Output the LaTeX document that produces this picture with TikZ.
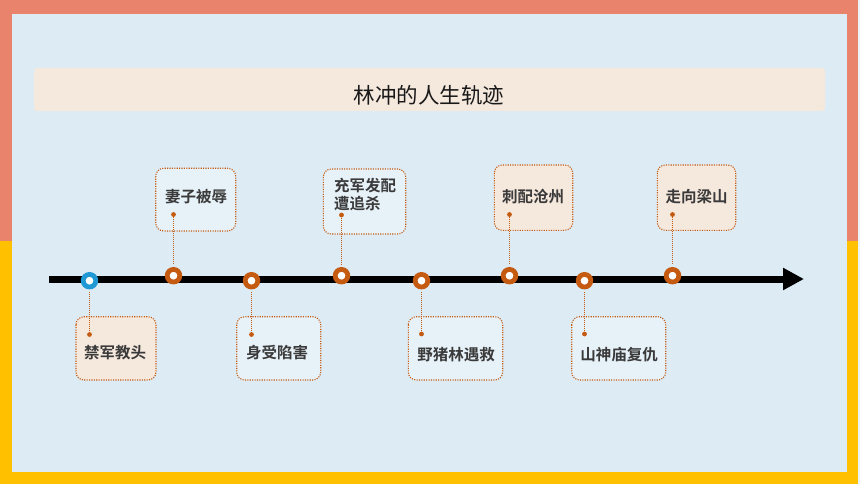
\documentclass[tikz,border=0pt]{standalone}
\usepackage{fontspec}
\newfontfamily\cjk{Noto Sans CJK SC}
\newfontfamily\cjkb{Noto Sans CJK SC Bold}
\usetikzlibrary{arrows.meta}
\definecolor{bandred}{HTML}{E9836C}
\definecolor{bandyel}{HTML}{FFC000}
\definecolor{panel}{HTML}{DCEBF4}
\definecolor{peach}{HTML}{F5E8DD}
\definecolor{lightbox}{HTML}{E6F1F8}
\definecolor{rust}{HTML}{C55A11}
\definecolor{ringblue}{HTML}{1F98D4}
\definecolor{txt}{HTML}{3A3A3A}
\tikzset{
  evbox/.style={draw=rust, dash pattern=on 1.1pt off 1.3pt, line width=1.1pt, rounded corners=8pt},
  peachbox/.style={evbox, fill=peach},
  bluebox/.style={evbox, fill=lightbox},
  ring/.style={circle, draw=rust, line width=4.8pt, fill=white, inner sep=0pt, minimum size=12.6pt},
  bluering/.style={ring, draw=ringblue},
  evdot/.style={circle, fill=rust, inner sep=0pt, minimum size=4.8pt},
  evtext/.style={text=txt, font=\cjkb\fontsize{15.5}{18.5}\selectfont, inner sep=0pt},
  stem/.style={draw=rust, dash pattern=on 1pt off 1pt, line width=1.2pt},
}
\begin{document}
\begin{tikzpicture}[x=1pt,y=-1pt]
\useasboundingbox (0,0) rectangle (860,484);
% background bands
\fill[bandred] (0,0) rectangle (860,241);
\fill[bandyel] (0,241) rectangle (860,484);
\fill[panel!60!white] (858,0) rectangle (860,484);
\fill[panel] (12,14) rectangle (846.5,472);
% title
\fill[peach, rounded corners=3pt] (34,68) rectangle (825,111);
\node[text=black!90, font=\cjk\fontsize{21.5}{24}\selectfont, inner sep=0pt] (title) at (429,95) {林冲的人生轨迹};
% axis
\coordinate (axs) at (49,279);
\coordinate (axe) at (804,279);
\draw[line width=7pt, -{Triangle[length=21pt,width=21pt]}] (axs) -- (axe);
% up boxes
\draw[bluebox] (155.7,168.3) rectangle (235.7,231);
\node[evtext] (t1) at (196,196.5) {妻子被辱};
\draw[bluebox] (323.3,169) rectangle (405.7,234);
\node[evtext, align=left, anchor=north west] (t3) at (334,178) {充军发配\\遭追杀};
\draw[peachbox] (494.3,165) rectangle (572.7,230.3);
\node[evtext] (t5) at (533,196.5) {刺配沧州};
\draw[peachbox] (657.3,165) rectangle (735.7,230.3);
\node[evtext] (t7) at (696.5,196.5) {走向梁山};
% down boxes
\draw[peachbox] (76,316.7) rectangle (156,380);
\node[evtext] (t0) at (115,353) {禁军教头};
\draw[bluebox] (236.7,316.7) rectangle (320.7,380);
\node[evtext] (t2) at (277,353) {身受陷害};
\draw[bluebox] (408.3,316.7) rectangle (502.7,380);
\node[evtext] (t4) at (456,354.5) {野猪林遇救};
\draw[bluebox] (571.7,316.7) rectangle (665.7,380);
\node[evtext] (t6) at (619,355) {山神庙复仇};
% dots
\node[evdot] (d0) at (89.5,334.5) {};
\node[evdot] (d1) at (173.5,214.5) {};
\node[evdot] (d2) at (251.5,334.5) {};
\node[evdot] (d3) at (341.5,215) {};
\node[evdot] (d4) at (421.5,334) {};
\node[evdot] (d5) at (509.5,214.5) {};
\node[evdot] (d6) at (584.5,334) {};
\node[evdot] (d7) at (672.5,214.5) {};
% rings
\node[bluering] (r0) at (89.5,280.7) {};
\node[ring] (r1) at (173.5,275.7) {};
\node[ring] (r2) at (251.5,280.7) {};
\node[ring] (r3) at (341.5,275.7) {};
\node[ring] (r4) at (421.5,280.7) {};
\node[ring] (r5) at (509.5,275.7) {};
\node[ring] (r6) at (584.5,280.7) {};
\node[ring] (r7) at (672.5,275.7) {};
% stems
\foreach \i in {1,3,5,7} { \draw[stem] (d\i) -- ([yshift=2.4pt]r\i.north); }
\foreach \i in {0,2,4,6} { \draw[stem] ([yshift=-2.4pt]r\i.south) -- (d\i); }
\end{tikzpicture}
\end{document}
